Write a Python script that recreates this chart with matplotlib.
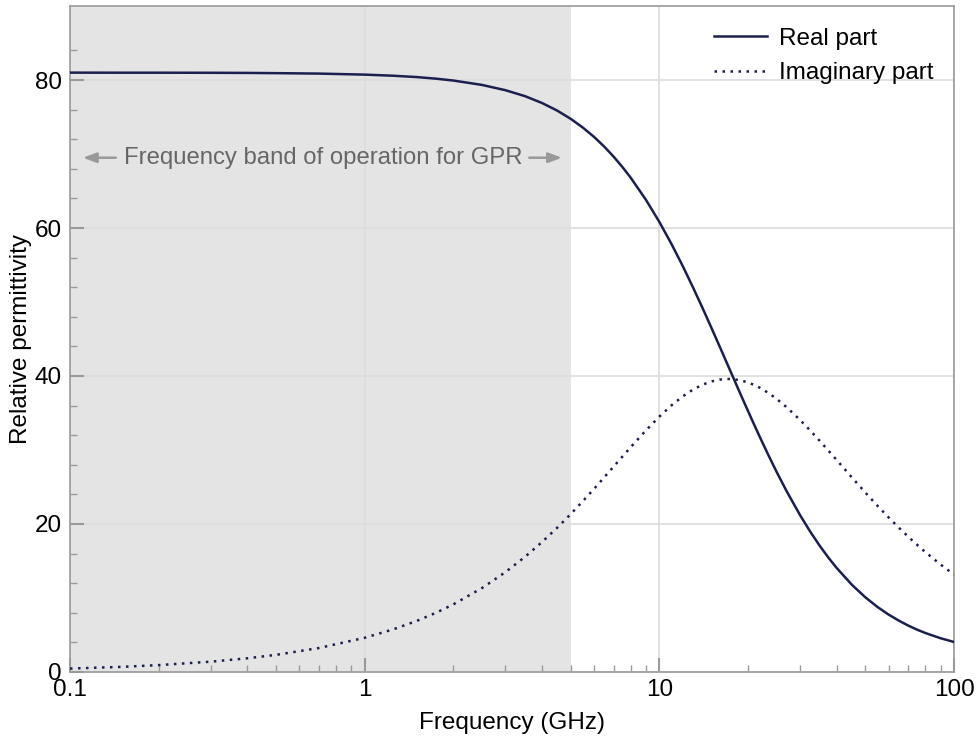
import numpy as np
import matplotlib.pyplot as plt
from matplotlib.ticker import FixedLocator, NullFormatter

plt.rcParams['font.family'] = ['Liberation Sans', 'DejaVu Sans']

# frequency (GHz) and permittivity values
freq = [0.1, 0.15, 0.2, 0.3, 0.4, 0.5, 0.7, 1, 1.25, 1.5, 1.75, 2, 2.5, 3, 3.5,
        4, 4.5, 5, 5.5, 6, 6.5, 7, 7.5, 8, 9, 10, 11, 12, 13, 14, 15, 16, 17,
        18, 19, 20, 21, 22, 23.5, 25, 27, 30, 32.5, 35, 37.5, 40, 45, 50, 55,
        60, 65, 70, 75, 80, 90, 100]
real_part = [81.0, 80.99, 80.99, 80.98, 80.96, 80.93, 80.87, 80.73, 80.58, 80.40,
             80.18, 79.93, 79.34, 78.63, 77.82, 76.89, 75.87, 74.76, 73.57, 72.32,
             71.00, 69.63, 68.22, 66.78, 63.82, 60.82, 57.82, 54.87, 51.99, 49.22,
             46.56, 44.03, 41.63, 39.37, 37.24, 35.25, 33.38, 31.63, 29.22, 27.04,
             24.47, 21.22, 18.97, 17.06, 15.43, 14.04, 11.79, 10.09, 8.78, 7.75,
             6.93, 6.26, 5.71, 5.26, 4.56, 4.05]
imag_part = [0.46, 0.69, 0.93, 1.39, 1.85, 2.31, 3.24, 4.62, 5.76, 6.89,
             8.02, 9.14, 11.34, 13.48, 15.56, 17.57, 19.49, 21.33, 23.09, 24.74,
             26.31, 27.77, 29.13, 30.40, 32.64, 34.51, 36.04, 37.24, 38.16, 38.82,
             39.26, 39.51, 39.60, 39.55, 39.38, 39.12, 38.78, 38.38, 37.68, 36.91,
             35.80, 34.07, 32.64, 31.24, 29.90, 28.63, 26.30, 24.25, 22.45, 20.88,
             19.49, 18.26, 17.17, 16.19, 14.52, 13.16]
band = [0.1, 5]  # GPR band (GHz)

x_ticks = [0.1, 1, 10, 100]
x_labels = ['0.1', '1', '10', '100']
y_ticks = [0, 20, 40, 60, 80]

line_color = '#1b1f4f'
spine_color = '#9a9a9a'
grid_color = '#dcdcdc'
fs = 17.5

fig = plt.figure(figsize=(9.78, 7.36), dpi=100)
ax = fig.add_axes([0.0716, 0.087, 0.9039, 0.9048])

ax.axvspan(band[0], band[1], color='#e4e4e4', zorder=0, lw=0)

ax.plot(freq, real_part, color=line_color, lw=1.8, label='Real part', zorder=3)
ax.plot(freq, imag_part, color=line_color, lw=1.8, ls=(0, (1, 2.2)),
        label='Imaginary part', zorder=3)

ax.set_xscale('log')
ax.set_xlim(0.1, 100)
ax.set_ylim(0, 90)

ax.set_xticks(x_ticks)
ax.set_xticklabels(x_labels)
ax.xaxis.set_minor_locator(FixedLocator(
    [m * d for d in [0.1, 1, 10] for m in range(2, 10)]))
ax.xaxis.set_minor_formatter(NullFormatter())
ax.set_yticks(y_ticks)
ax.yaxis.set_minor_locator(FixedLocator([v for v in range(4, 88, 4) if v % 20]))

ax.grid(True, which='major', color=grid_color, lw=1.2, zorder=1)
ax.set_axisbelow(True)

for s in ax.spines.values():
    s.set_color(spine_color)
    s.set_linewidth(1.2)

ax.tick_params(which='both', direction='in', color=spine_color,
               top=False, right=False, labelsize=fs, labelcolor='black')
ax.tick_params(which='major', length=10, width=1.5)
ax.tick_params(which='minor', length=5, width=1)
ax.tick_params(axis='x', which='major', pad=5)
ax.tick_params(axis='y', which='major', pad=6)

ax.set_xlabel('Frequency (GHz)', fontsize=fs, labelpad=8)
ax.set_ylabel('Relative permittivity', fontsize=fs, labelpad=2)

# band annotation
ax.text(0.724, 69.5, 'Frequency band of operation for GPR', ha='center',
        va='center', fontsize=17.2, color='#666666')
arrow_kw = dict(arrowstyle='-|>,head_length=0.8,head_width=0.3',
                color='#999999', lw=1.8, shrinkA=0, shrinkB=0)
ax.annotate('', xy=(0.1106, 69.5), xytext=(0.143, 69.5), arrowprops=arrow_kw)
ax.annotate('', xy=(4.67, 69.5), xytext=(3.62, 69.5), arrowprops=arrow_kw)

ax.legend(loc='upper right', frameon=False, fontsize=fs, handlelength=2.2,
          handletextpad=0.5, labelspacing=0.5, borderaxespad=0.5,
          bbox_to_anchor=(1.002, 1.0))

fig.savefig('out.png', dpi=100)
